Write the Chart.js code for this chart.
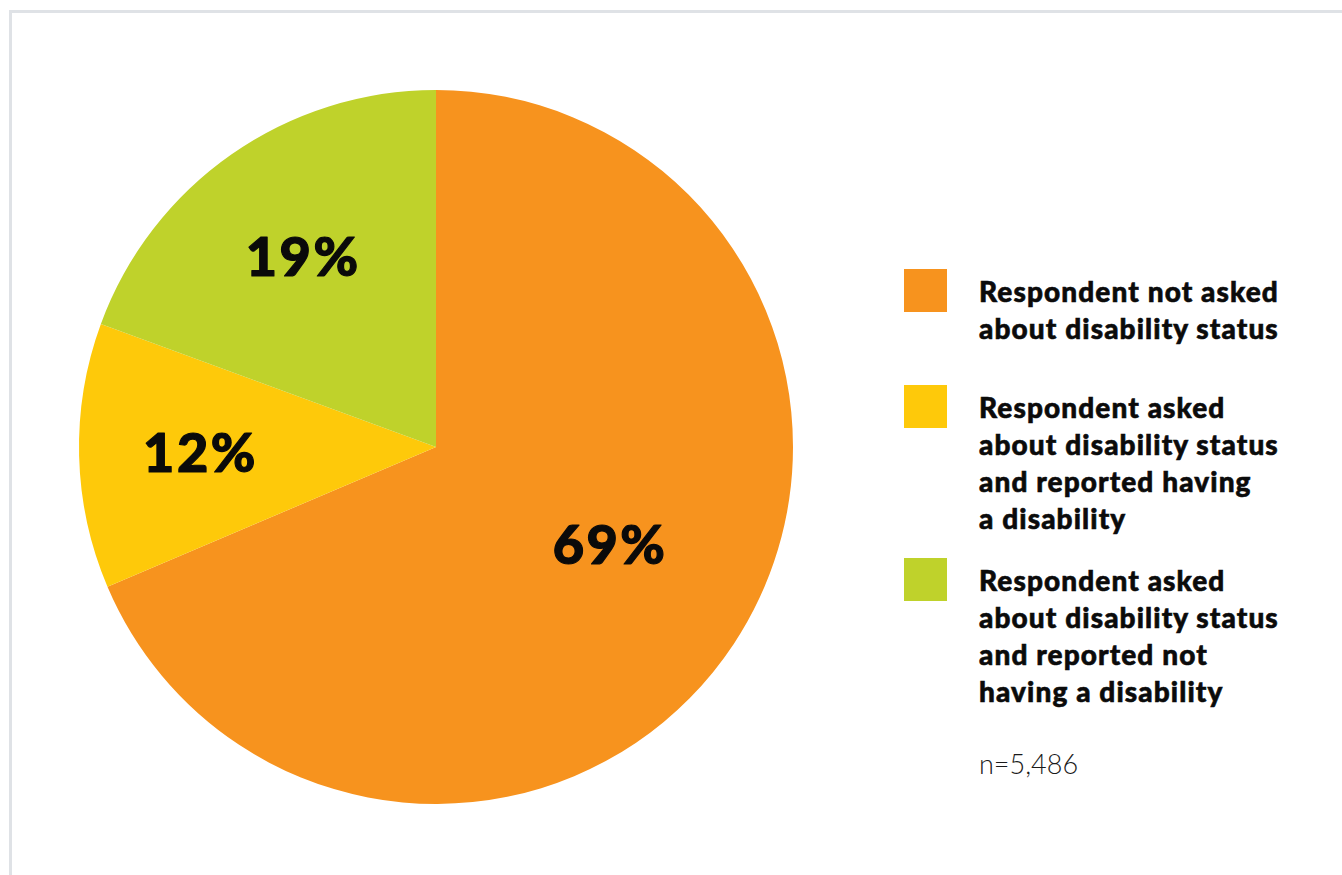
<!DOCTYPE html>
<html>
<head>
<meta charset="utf-8">
<script src="https://cdn.jsdelivr.net/npm/chart.js@4.4.1/dist/chart.umd.min.js"></script>
<style>
  html, body { margin: 0; padding: 0; background: #fff; overflow: hidden; }
  body { width: 1342px; height: 875px; position: relative; font-family: Lato, "Open Sans", sans-serif; }
  #frame { position: absolute; left: 9px; top: 10px; width: 1400px; height: 900px;
           border-top: 3px solid #dfe2e6; border-left: 3px solid #dfe2e6; }
  #chartBox { position: absolute; left: 0; top: 0; width: 872px; height: 875px; }
  .item { position: absolute; left: 904px; }
  .swatch { position: absolute; left: 0; top: 0; width: 43px; height: 43px; }
  .label { position: absolute; left: 75px; top: 4px; width: 400px; font-size: 28px; line-height: 37px;
           font-weight: 900; color: #0b0b0b; white-space: nowrap; letter-spacing: 1.1px;
           -webkit-text-stroke: 0.6px #0b0b0b; }
  #note { position: absolute; left: 979px; top: 745px; font-size: 27px; line-height: 37px; font-weight: 300; color: #1a1a1a; }
</style>
</head>
<body>
<div id="frame"></div>
<div id="chartBox"><canvas id="c"></canvas></div>
<div id="legend"></div>
<div id="note"></div>
<script>
// ---- data ----
const categories = [
  ["Respondent not asked", "about disability status"],
  ["Respondent asked", "about disability status", "and reported having", "a disability"],
  ["Respondent asked", "about disability status", "and reported not", "having a disability"]
];
const shares = [68.6, 12.0, 19.4];
const shareLabels = ["69%", "12%", "19%"];
const colors = ["#F7931E", "#FEC90A", "#BFD22B"];
const sampleNote = "n=5,486";

// ---- legend (HTML) ----
const legendTops = [269, 385, 558];
const legend = document.getElementById('legend');
categories.forEach((lines, i) => {
  const item = document.createElement('div');
  item.className = 'item';
  item.style.top = legendTops[i] + 'px';
  const sw = document.createElement('div');
  sw.className = 'swatch';
  sw.style.background = colors[i];
  const lb = document.createElement('div');
  lb.className = 'label';
  lines.forEach((t, k) => {
    if (k) lb.appendChild(document.createElement('br'));
    lb.appendChild(document.createTextNode(t));
  });
  item.appendChild(sw);
  item.appendChild(lb);
  legend.appendChild(item);
});
document.getElementById('note').textContent = sampleNote;

// ---- slice labels plugin ----
const sliceLabels = {
  id: 'sliceLabels',
  afterDatasetsDraw(chart, args, opts) {
    const ctx = chart.ctx;
    const meta = chart.getDatasetMeta(0);
    ctx.save();
    ctx.font = opts.font;
    ctx.fillStyle = opts.color;
    ctx.strokeStyle = opts.color;
    ctx.lineWidth = opts.stroke;
    ctx.lineJoin = 'round';
    if ('letterSpacing' in ctx) ctx.letterSpacing = opts.spacing;
    ctx.textAlign = 'center';
    ctx.textBaseline = 'alphabetic';
    meta.data.forEach((arc, i) => {
      const mid = (arc.startAngle + arc.endAngle) / 2 + (opts.angleShift[i] || 0);
      const r = arc.outerRadius * opts.radial[i];
      const x = arc.x + Math.cos(mid) * r;
      const y = arc.y + Math.sin(mid) * r;
      ctx.fillText(shareLabels[i], x, y + opts.capHalf);
      ctx.strokeText(shareLabels[i], x, y + opts.capHalf);
    });
    ctx.restore();
  }
};

new Chart(document.getElementById('c'), {
  type: 'pie',
  data: {
    labels: categories.map(l => l.join(' ')),
    datasets: [{
      data: shares,
      backgroundColor: colors,
      borderWidth: 0,
      hoverOffset: 0
    }]
  },
  options: {
    responsive: true,
    maintainAspectRatio: false,
    animation: false,
    events: [],
    layout: { padding: { left: 79, right: 79, top: 90, bottom: 71 } },
    plugins: {
      legend: { display: false },
      tooltip: { enabled: false },
      sliceLabels: {
        font: '900 54px Lato',
        color: '#0a0a0a',
        stroke: 1.2,
        spacing: '2.5px',
        radial: [0.56, 0.66, 0.65],
        angleShift: [-0.07, 0, 0],
        capHalf: 19
      }
    }
  },
  plugins: [sliceLabels]
});
</script>
</body>
</html>
